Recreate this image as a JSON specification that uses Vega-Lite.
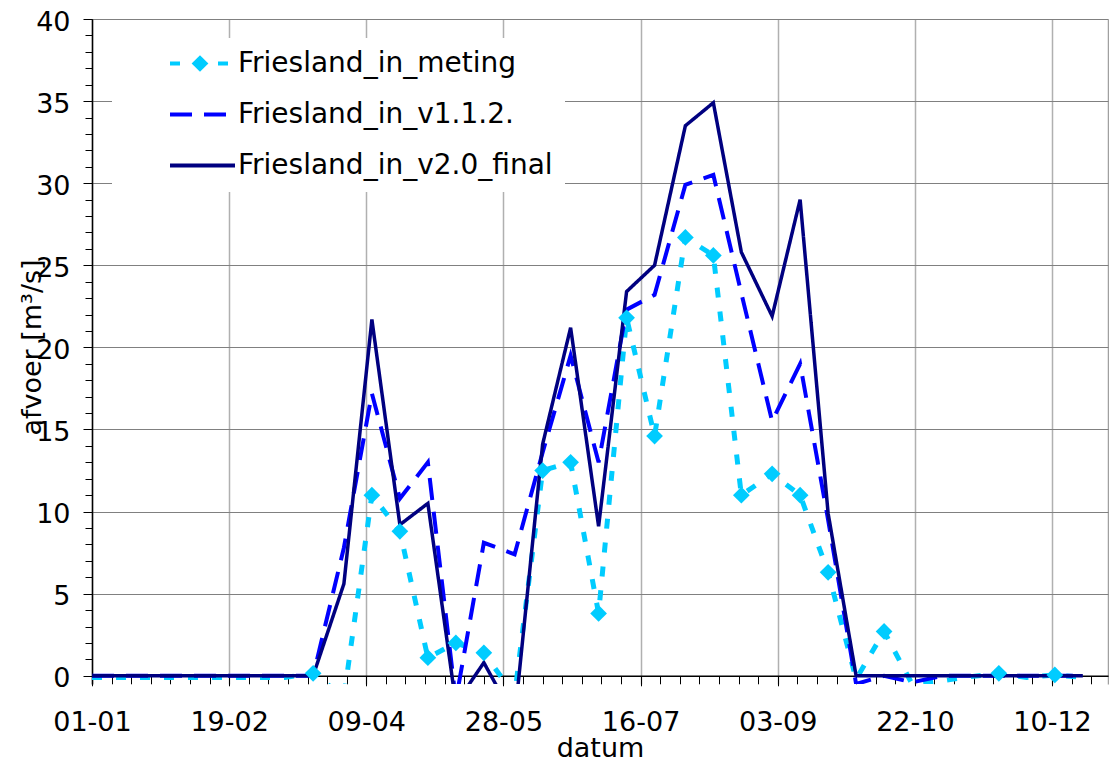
{
  "$schema": "https://vega.github.io/schema/vega-lite/v6.json",
  "width": 1016,
  "height": 665,
  "autosize": {"type": "none"},
  "padding": {"left": 92, "top": 19, "right": 1, "bottom": 78},
  "background": "white",
  "config": {
    "view": {"stroke": null},
    "font": "DejaVu Sans",
    "legend": {
      "orient": "none", "legendX": 20, "legendY": 19, "padding": 12,
      "fillColor": "white", "clipHeight": 27, "rowPadding": 22,
      "symbolOffset": 44, "labelOffset": 1, "symbolSize": 4225, "symbolStrokeWidth": 4,
      "labelFont": "DejaVu Sans", "labelFontSize": 28, "labelColor": "black", "labelLimit": 0
    }
  },
  "data": {"values": [
    {"d":"2001-01-01","s":"Friesland_in_meting","v":-0.1},
    {"d":"2001-01-11","s":"Friesland_in_meting","v":-0.1},
    {"d":"2001-01-21","s":"Friesland_in_meting","v":-0.1},
    {"d":"2001-02-01","s":"Friesland_in_meting","v":-0.1},
    {"d":"2001-02-11","s":"Friesland_in_meting","v":-0.1},
    {"d":"2001-02-21","s":"Friesland_in_meting","v":-0.1},
    {"d":"2001-03-01","s":"Friesland_in_meting","v":-0.1},
    {"d":"2001-03-11","s":"Friesland_in_meting","v":-0.1},
    {"d":"2001-03-21","s":"Friesland_in_meting","v":0.15},
    {"d":"2001-04-01","s":"Friesland_in_meting","v":-1.3},
    {"d":"2001-04-11","s":"Friesland_in_meting","v":11.0},
    {"d":"2001-04-21","s":"Friesland_in_meting","v":8.8},
    {"d":"2001-05-01","s":"Friesland_in_meting","v":1.1},
    {"d":"2001-05-11","s":"Friesland_in_meting","v":2.0},
    {"d":"2001-05-21","s":"Friesland_in_meting","v":1.4},
    {"d":"2001-06-01","s":"Friesland_in_meting","v":-1.2},
    {"d":"2001-06-11","s":"Friesland_in_meting","v":12.5},
    {"d":"2001-06-21","s":"Friesland_in_meting","v":13.0},
    {"d":"2001-07-01","s":"Friesland_in_meting","v":3.8},
    {"d":"2001-07-11","s":"Friesland_in_meting","v":21.8},
    {"d":"2001-07-21","s":"Friesland_in_meting","v":14.6},
    {"d":"2001-08-01","s":"Friesland_in_meting","v":26.7},
    {"d":"2001-08-11","s":"Friesland_in_meting","v":25.6},
    {"d":"2001-08-21","s":"Friesland_in_meting","v":11.0},
    {"d":"2001-09-01","s":"Friesland_in_meting","v":12.3},
    {"d":"2001-09-11","s":"Friesland_in_meting","v":11.0},
    {"d":"2001-09-21","s":"Friesland_in_meting","v":6.3},
    {"d":"2001-10-01","s":"Friesland_in_meting","v":-0.2},
    {"d":"2001-10-11","s":"Friesland_in_meting","v":2.7},
    {"d":"2001-10-21","s":"Friesland_in_meting","v":-0.5},
    {"d":"2001-11-01","s":"Friesland_in_meting","v":-0.3},
    {"d":"2001-11-11","s":"Friesland_in_meting","v":-0.05},
    {"d":"2001-11-21","s":"Friesland_in_meting","v":0.15},
    {"d":"2001-12-01","s":"Friesland_in_meting","v":-0.1},
    {"d":"2001-12-11","s":"Friesland_in_meting","v":0.05},
    {"d":"2001-12-21","s":"Friesland_in_meting","v":-0.1},
    {"d":"2001-01-01","s":"Friesland_in_v1.1.2.","v":0},
    {"d":"2001-01-11","s":"Friesland_in_v1.1.2.","v":0},
    {"d":"2001-01-21","s":"Friesland_in_v1.1.2.","v":0},
    {"d":"2001-02-01","s":"Friesland_in_v1.1.2.","v":0},
    {"d":"2001-02-11","s":"Friesland_in_v1.1.2.","v":0},
    {"d":"2001-02-21","s":"Friesland_in_v1.1.2.","v":0},
    {"d":"2001-03-01","s":"Friesland_in_v1.1.2.","v":0},
    {"d":"2001-03-11","s":"Friesland_in_v1.1.2.","v":0},
    {"d":"2001-03-21","s":"Friesland_in_v1.1.2.","v":0},
    {"d":"2001-04-01","s":"Friesland_in_v1.1.2.","v":7.8},
    {"d":"2001-04-11","s":"Friesland_in_v1.1.2.","v":17.2},
    {"d":"2001-04-21","s":"Friesland_in_v1.1.2.","v":10.8},
    {"d":"2001-05-01","s":"Friesland_in_v1.1.2.","v":13.0},
    {"d":"2001-05-11","s":"Friesland_in_v1.1.2.","v":-1.5},
    {"d":"2001-05-21","s":"Friesland_in_v1.1.2.","v":8.1},
    {"d":"2001-06-01","s":"Friesland_in_v1.1.2.","v":7.4},
    {"d":"2001-06-11","s":"Friesland_in_v1.1.2.","v":13.6},
    {"d":"2001-06-21","s":"Friesland_in_v1.1.2.","v":19.5},
    {"d":"2001-07-01","s":"Friesland_in_v1.1.2.","v":13.0},
    {"d":"2001-07-11","s":"Friesland_in_v1.1.2.","v":22.3},
    {"d":"2001-07-21","s":"Friesland_in_v1.1.2.","v":23.2},
    {"d":"2001-08-01","s":"Friesland_in_v1.1.2.","v":29.9},
    {"d":"2001-08-11","s":"Friesland_in_v1.1.2.","v":30.5},
    {"d":"2001-08-21","s":"Friesland_in_v1.1.2.","v":23.3},
    {"d":"2001-09-01","s":"Friesland_in_v1.1.2.","v":15.5},
    {"d":"2001-09-11","s":"Friesland_in_v1.1.2.","v":19.0},
    {"d":"2001-09-21","s":"Friesland_in_v1.1.2.","v":9.5},
    {"d":"2001-10-01","s":"Friesland_in_v1.1.2.","v":-0.5},
    {"d":"2001-10-11","s":"Friesland_in_v1.1.2.","v":0.0},
    {"d":"2001-10-21","s":"Friesland_in_v1.1.2.","v":-0.4},
    {"d":"2001-11-01","s":"Friesland_in_v1.1.2.","v":0},
    {"d":"2001-11-11","s":"Friesland_in_v1.1.2.","v":0},
    {"d":"2001-11-21","s":"Friesland_in_v1.1.2.","v":0},
    {"d":"2001-12-01","s":"Friesland_in_v1.1.2.","v":0},
    {"d":"2001-12-11","s":"Friesland_in_v1.1.2.","v":0},
    {"d":"2001-12-21","s":"Friesland_in_v1.1.2.","v":0},
    {"d":"2001-01-01","s":"Friesland_in_v2.0_final","v":0},
    {"d":"2001-01-11","s":"Friesland_in_v2.0_final","v":0},
    {"d":"2001-01-21","s":"Friesland_in_v2.0_final","v":0},
    {"d":"2001-02-01","s":"Friesland_in_v2.0_final","v":0},
    {"d":"2001-02-11","s":"Friesland_in_v2.0_final","v":0},
    {"d":"2001-02-21","s":"Friesland_in_v2.0_final","v":0},
    {"d":"2001-03-01","s":"Friesland_in_v2.0_final","v":0},
    {"d":"2001-03-11","s":"Friesland_in_v2.0_final","v":0},
    {"d":"2001-03-21","s":"Friesland_in_v2.0_final","v":0},
    {"d":"2001-04-01","s":"Friesland_in_v2.0_final","v":5.6},
    {"d":"2001-04-11","s":"Friesland_in_v2.0_final","v":21.7},
    {"d":"2001-04-21","s":"Friesland_in_v2.0_final","v":9.2},
    {"d":"2001-05-01","s":"Friesland_in_v2.0_final","v":10.5},
    {"d":"2001-05-11","s":"Friesland_in_v2.0_final","v":-1.7},
    {"d":"2001-05-21","s":"Friesland_in_v2.0_final","v":0.8},
    {"d":"2001-06-01","s":"Friesland_in_v2.0_final","v":-2.6},
    {"d":"2001-06-11","s":"Friesland_in_v2.0_final","v":14.1},
    {"d":"2001-06-21","s":"Friesland_in_v2.0_final","v":21.2},
    {"d":"2001-07-01","s":"Friesland_in_v2.0_final","v":9.1},
    {"d":"2001-07-11","s":"Friesland_in_v2.0_final","v":23.4},
    {"d":"2001-07-21","s":"Friesland_in_v2.0_final","v":25.0},
    {"d":"2001-08-01","s":"Friesland_in_v2.0_final","v":33.5},
    {"d":"2001-08-11","s":"Friesland_in_v2.0_final","v":34.9},
    {"d":"2001-08-21","s":"Friesland_in_v2.0_final","v":25.8},
    {"d":"2001-09-01","s":"Friesland_in_v2.0_final","v":21.9},
    {"d":"2001-09-11","s":"Friesland_in_v2.0_final","v":29.0},
    {"d":"2001-09-21","s":"Friesland_in_v2.0_final","v":9.9},
    {"d":"2001-10-01","s":"Friesland_in_v2.0_final","v":0},
    {"d":"2001-10-11","s":"Friesland_in_v2.0_final","v":0},
    {"d":"2001-10-21","s":"Friesland_in_v2.0_final","v":0},
    {"d":"2001-11-01","s":"Friesland_in_v2.0_final","v":0},
    {"d":"2001-11-11","s":"Friesland_in_v2.0_final","v":0},
    {"d":"2001-11-21","s":"Friesland_in_v2.0_final","v":0},
    {"d":"2001-12-01","s":"Friesland_in_v2.0_final","v":0},
    {"d":"2001-12-11","s":"Friesland_in_v2.0_final","v":0},
    {"d":"2001-12-21","s":"Friesland_in_v2.0_final","v":0}
  ]},
  "layer": [
    {
      "transform": [{"filter": "datum.s === 'Friesland_in_meting'"}],
      "mark": {"type": "line", "strokeWidth": 5, "clip": true, "strokeCap": "butt"},
      "encoding": {
        "x": {"field": "d", "type": "temporal",
          "scale": {"type": "utc", "domain": [978307200000, 1009670400000]},
          "axis": {"orient": "bottom", "offset": -8.21,
            "values": [978307200000, 982540800000, 986774400000, 991008000000, 995241600000, 999475200000, 1003708800000, 1007942400000],
            "labelExpr": "utcFormat(datum.value, '%d-%m')",
            "grid": true, "gridColor": "#b0b0b0", "gridWidth": 1.5,
            "domainColor": "black", "domainWidth": 1.5,
            "tickColor": "black", "tickSize": 10, "tickWidth": 1,
            "labelFont": "DejaVu Sans", "labelFontSize": 27, "labelColor": "black",
            "labelPadding": 24, "labelFlush": false, "labelOverlap": false, "labelBound": false,
            "title": "datum", "titleFont": "DejaVu Sans", "titleFontSize": 27, "titleFontWeight": "normal",
            "titleColor": "black", "titlePadding": 0}},
        "y": {"field": "v", "type": "quantitative",
          "scale": {"domain": [-0.5, 40], "nice": false, "zero": false},
          "axis": {"orient": "left",
            "values": [0, 5, 10, 15, 20, 25, 30, 35, 40],
            "grid": true, "gridColor": "#808080", "gridWidth": 1,
            "domainColor": "black", "domainWidth": 1.5,
            "tickColor": "black", "tickSize": 9, "tickWidth": 1,
            "labelFont": "DejaVu Sans", "labelFontSize": 27, "labelColor": "black",
            "labelPadding": 13, "labelOffset": 3, "labelOverlap": false,
            "title": "afvoer [m³/s]", "titleFont": "DejaVu Sans", "titleFontSize": 27, "titleFontWeight": "normal",
            "titleColor": "black", "titleAngle": 270, "titleX": -52, "titleY": 328,
            "titleAlign": "center", "titleBaseline": "alphabetic"}},
        "color": {"field": "s", "type": "nominal",
          "scale": {"domain": ["Friesland_in_meting", "Friesland_in_v1.1.2.", "Friesland_in_v2.0_final"], "range": ["#00ccff", "#0000ff", "#000080"]},
          "legend": {"title": null}},
        "strokeDash": {"field": "s", "type": "nominal",
          "scale": {"domain": ["Friesland_in_meting", "Friesland_in_v1.1.2.", "Friesland_in_v2.0_final"], "range": [[10, 14], [22, 12], [1, 0]]},
          "legend": {"title": null}}
      }
    },
    {
      "transform": [{"filter": "datum.s === 'Friesland_in_v1.1.2.'"}],
      "mark": {"type": "line", "strokeWidth": 4, "clip": true, "strokeCap": "butt"},
      "encoding": {
        "x": {"field": "d", "type": "temporal",
          "scale": {"type": "utc", "domain": [978307200000, 1009670400000]},
          "axis": {"orient": "bottom", "offset": -8.21,
            "values": [978307200000, 978912000000, 979516800000, 980121600000, 980726400000, 981331200000, 981936000000, 982540800000, 983145600000, 983750400000, 984355200000, 984960000000, 985564800000, 986169600000, 986774400000, 987379200000, 987984000000, 988588800000, 989193600000, 989798400000, 990403200000, 991008000000, 991612800000, 992217600000, 992822400000, 993427200000, 994032000000, 994636800000, 995241600000, 995846400000, 996451200000, 997056000000, 997660800000, 998265600000, 998870400000, 999475200000, 1000080000000, 1000684800000, 1001289600000, 1001894400000, 1002499200000, 1003104000000, 1003708800000, 1004313600000, 1004918400000, 1005523200000, 1006128000000, 1006732800000, 1007337600000, 1007942400000, 1008547200000, 1009152000000],
            "labels": false, "grid": false, "domain": false,
            "tickColor": "black", "tickSize": 8, "tickWidth": 1, "title": null}},
        "y": {"field": "v", "type": "quantitative",
          "scale": {"domain": [-0.5, 40], "nice": false, "zero": false},
          "axis": {"orient": "left",
            "values": [0, 1, 2, 3, 4, 5, 6, 7, 8, 9, 10, 11, 12, 13, 14, 15, 16, 17, 18, 19, 20, 21, 22, 23, 24, 25, 26, 27, 28, 29, 30, 31, 32, 33, 34, 35, 36, 37, 38, 39, 40],
            "labels": false, "grid": false, "domain": false,
            "tickColor": "black", "tickSize": 7, "tickWidth": 1, "title": null}},
        "color": {"field": "s", "type": "nominal",
          "scale": {"domain": ["Friesland_in_meting", "Friesland_in_v1.1.2.", "Friesland_in_v2.0_final"], "range": ["#00ccff", "#0000ff", "#000080"]},
          "legend": {"title": null}},
        "strokeDash": {"field": "s", "type": "nominal",
          "scale": {"domain": ["Friesland_in_meting", "Friesland_in_v1.1.2.", "Friesland_in_v2.0_final"], "range": [[10, 14], [22, 12], [1, 0]]},
          "legend": {"title": null}}
      }
    },
    {
      "transform": [{"filter": "datum.s === 'Friesland_in_v2.0_final'"}],
      "mark": {"type": "line", "strokeWidth": 3.5, "clip": true},
      "encoding": {
        "x": {"field": "d", "type": "temporal",
          "scale": {"type": "utc", "domain": [978307200000, 1009670400000]},
          "axis": {"orient": "bottom", "offset": -8.21, "values": [1009670400000],
            "labels": false, "ticks": false, "domain": false,
            "grid": true, "gridColor": "#a0a0a0", "gridWidth": 1.5, "title": null}},
        "y": {"field": "v", "type": "quantitative",
          "scale": {"domain": [-0.5, 40], "nice": false, "zero": false},
          "axis": null},
        "color": {"field": "s", "type": "nominal",
          "scale": {"domain": ["Friesland_in_meting", "Friesland_in_v1.1.2.", "Friesland_in_v2.0_final"], "range": ["#00ccff", "#0000ff", "#000080"]},
          "legend": {"title": null}},
        "strokeDash": {"field": "s", "type": "nominal",
          "scale": {"domain": ["Friesland_in_meting", "Friesland_in_v1.1.2.", "Friesland_in_v2.0_final"], "range": [[10, 14], [22, 12], [1, 0]]},
          "legend": {"title": null}}
      }
    },
    {
      "transform": [{"filter": "datum.s === 'Friesland_in_meting' && datum.v >= 0"}],
      "mark": {"type": "point", "filled": true, "size": 280, "color": "#00ccff", "opacity": 1, "strokeWidth": 0, "clip": true},
      "encoding": {
        "x": {"field": "d", "type": "temporal",
          "scale": {"type": "utc", "domain": [978307200000, 1009670400000]}, "axis": null},
        "y": {"field": "v", "type": "quantitative",
          "scale": {"domain": [-0.5, 40], "nice": false, "zero": false}, "axis": null},
        "shape": {"field": "s", "type": "nominal",
          "scale": {"domain": ["Friesland_in_meting"], "range": ["diamond"]},
          "legend": {"title": null, "orient": "none", "legendX": 94, "legendY": 31, "padding": 0,
            "fillColor": "transparent", "labelExpr": "''", "symbolOffset": 0, "labelOffset": 0,
            "symbolSize": 280, "symbolFillColor": "#00ccff", "symbolStrokeColor": "#00ccff",
            "symbolStrokeWidth": 0, "symbolOpacity": 1, "clipHeight": 27}}
      }
    }
  ],
  "resolve": {"axis": {"x": "independent", "y": "independent"}}
}
